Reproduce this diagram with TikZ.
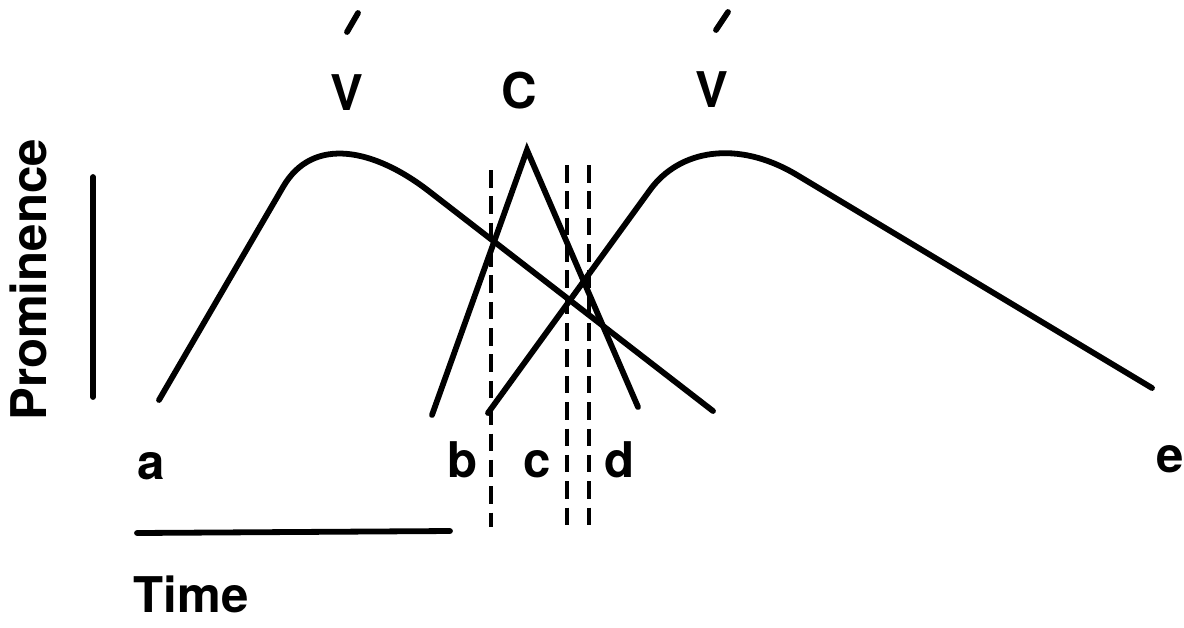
\documentclass[tikz,border=0pt]{standalone}
\usepackage{fontspec}
\setmainfont{TeX Gyre Heros}
\usetikzlibrary{calc}

\begin{document}
\begin{tikzpicture}[x=0.02cm,y=-0.02cm,
  curve/.style={line width=3.3pt,line cap=round},
  cut/.style={line width=2.8pt,dash pattern=on 10pt off 5pt},
  lbl/.style={font=\fontsize{28}{32}\selectfont\bfseries,inner sep=0pt,anchor=base}]
  % Prominence of V C V against time, with the boundaries b, c, d.
  \useasboundingbox (0,0) rectangle (1184,627);

  \coordinate (P1) at (159,400);
  \coordinate (Q1) at (283,187);
  \coordinate (R1) at (430,192);
  \coordinate (S1) at (713,411);

  \coordinate (Cl) at (432,415);
  \coordinate (Ct) at (527,150);
  \coordinate (Cr) at (638,407);

  \coordinate (P2) at (488,413);
  \coordinate (Q2) at (650,190);
  \coordinate (R2) at (797,175);
  \coordinate (S2) at (1152,388);

  \draw[curve] (P1) -- (Q1) .. controls (313,135) and (375,149) .. (R1) -- (S1);
  \draw[curve] (Cl) -- (Ct) -- (Cr);
  \draw[curve] (P2) -- (Q2) .. controls (679,150) and (737,139) .. (R2) -- (S2);

  \draw[cut] (491,170) -- (491,527);
  \draw[cut] (567,165) -- (567,527);
  \draw[cut] (589,165) -- (589,525);

  \draw[curve] (93,177) -- (93,397);
  \draw[curve] (137,533) -- (450,531);

  \node[lbl] (v1) at (347,110) {V};
  \node[lbl] (c)  at (519,108) {C};
  \node[lbl] (v2) at (712,107) {V};
  \draw[curve] (347,32) -- (358,13);
  \draw[curve] (716,30) -- (728,12);

  \node[lbl] (la) at (151,479) {a};
  \node[lbl] (lb) at (463,477) {b};
  \node[lbl] (lc) at (537,477) {c};
  \node[lbl] (ld) at (620,477) {d};
  \node[lbl] (le) at (1170,472) {e};

  \node[lbl,rotate=90] (prom) at (47,280) {Prominence};
  \node[lbl] (time) at (191,612) {Time};
\end{tikzpicture}
\end{document}
